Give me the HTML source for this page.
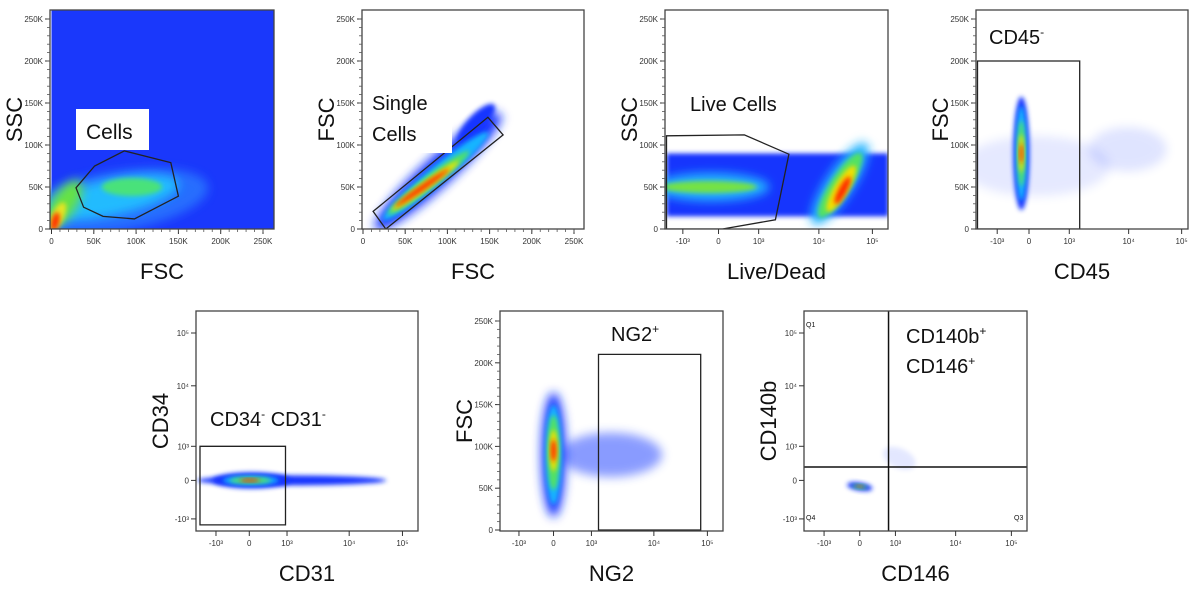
<!DOCTYPE html>
<html><head><meta charset="utf-8">
<style>
html,body{margin:0;padding:0;background:#fff;}
svg{display:block;font-family:"Liberation Sans",sans-serif;}
</style></head>
<body>
<svg id="fig" width="1200" height="591" viewBox="0 0 1200 591" xmlns="http://www.w3.org/2000/svg">
<defs>
<filter id="bl1" x="-50%" y="-50%" width="200%" height="200%"><feGaussianBlur stdDeviation="2.5"/></filter>
<filter id="bl2" x="-50%" y="-50%" width="200%" height="200%"><feGaussianBlur stdDeviation="5"/></filter>
</defs>
</svg>
<script>
// ---------- data ----------
const LOG_VALUES = [-1000, 0, 1000, 10000, 100000];
const LOG_LABELS = ['-10³', '0', '10³', '10⁴', '10⁵'];
const LIN_TICKS = [0, 50000, 100000, 150000, 200000, 250000];
const LIN_LABELS = ['0', '50K', '100K', '150K', '200K', '250K'];

const panelNames = ['cells-plot','single-cells-plot','live-cells-plot','cd45-plot','cd34-cd31-plot','ng2-plot','cd140b-cd146-plot'];
const xTitles = ['FSC','FSC','Live/Dead','CD45','CD31','NG2','CD146'];
const yTitles = ['SSC','FSC','SSC','FSC','CD34','FSC','CD140b'];

// populations: [x1,y1,x2,y2,halfWidthPx,color,opacity]
const pops1 = [[0,20000,150000,45000,30,'#2a7cff',0.8],[10000,25000,130000,50000,18,'#22c4ff',0.9],[70000,50000,120000,50000,9,'#48e27a',1],[5000,15000,25000,45000,12,'#66e244',1],[3000,5000,12000,25000,6,'#e6e424',1],[3000,3000,6000,15000,4,'#ff3000',1]];
const pops2 = [[28000,12000,150000,125000,15,'#1234ff',1],[120000,110000,148000,140000,9,'#1234ff',1],[32000,18000,140000,108000,9,'#12b4ff',1],[35000,22000,120000,88000,6,'#52e262',1],[38000,25000,110000,78000,4,'#f2e400',1],[40000,28000,100000,70000,2.5,'#ff2200',1]];
const pops3 = [[-3300,50000,800,50000,14,'#22b2ff',1],[-3300,50000,600,50000,6,'#74e244',1],[11000,20000,55000,88000,14,'#22b2ff',1],[13000,24000,48000,80000,10,'#52e262',1],[17000,28000,40000,68000,7,'#f2e000',1],[22000,34000,35000,58000,4,'#ff2a00',1]];
const pops4 = [[-1500,75000,1500,75000,30,'#3050ff',0.12],[5000,95000,20000,95000,22,'#3050ff',0.15],[-100,32000,-100,148000,8,'#1234ff',1],[-100,40000,-100,140000,5.5,'#12b4ff',1],[-100,55000,-100,125000,3.5,'#52e262',1],[-100,70000,-100,110000,2.5,'#f2e000',1],[-100,80000,-100,100000,1.5,'#ff2200',1]];
const pops5 = [[-3000,0,40000,0,5,'#1234ff',1],[-700,0,700,0,8,'#1234ff',1],[-400,0,400,0,4.5,'#12b4ff',1],[-250,0,250,0,3,'#52e262',1],[-100,0,100,0,1.5,'#ff2200',1]];
const pops6 = [[500,90000,6000,90000,22,'#2a4cff',0.55],[0,30000,0,150000,12,'#1234ff',1],[0,40000,0,140000,8,'#12b4ff',1],[0,55000,0,130000,6,'#52e262',1],[0,75000,0,115000,4,'#f2e000',1],[0,85000,0,105000,2.5,'#ff2200',1]];
const pops7 = [[800,500,1500,300,10,'#2244ff',0.12],[-100,-50,100,-80,4,'#1234ff',1],[-60,-60,60,-70,2,'#52e262',1],[-20,-60,20,-65,1,'#ff2200',1]];
const bgRects = [[0,0,270000,270000,'#1a38fb'],null,[-3300,15000,200000,90000,'#1434fd'],null,null,null,null];

// gates
const gate1 = [[29000,49000],[51000,75000],[86000,93000],[141000,79000],[150000,39000],[98000,12000],[61000,15000],[38000,26000]];
const gate2 = [[12000,21000],[27000,0],[166000,112000],[148000,133000]];
const gate3 = [[-3300,111000],[386,112000],[3180,89000],[1900,11000],[39,0],[-3300,0]];
const gate4 = [[-5000,0],[-5000,200000],[1500,200000],[1500,0]];
const gate5 = [[-3500,-1500],[-3500,1000],[900,1000],[900,-1500]];
const gate6 = [[1300,0],[1300,210000],[75000,210000],[75000,0]];
const quad7 = [600, 180];

// ---------- layout ----------
const frames = [[50,10,274,229],[362,10,584,229],[665,10,888,229],[976,10,1188,229],[196,311,418,531],[500,311,723,531],[804,311,1027,531]];
const xAxes = [{t:'lin',p0:51.5,p1:263},{t:'lin',p0:363,p1:574},{t:'log',f:[.08,.24,.42,.69,.93]},{t:'log',f:[.10,.25,.44,.72,.97]},{t:'log',f:[.09,.24,.41,.69,.93]},{t:'log',f:[.085,.24,.41,.69,.93]},{t:'log',f:[.09,.25,.41,.68,.93]}];
const yAxes = [{t:'lin',p0:229,p1:19},{t:'lin',p0:229,p1:19},{t:'lin',p0:229,p1:19},{t:'lin',p0:229,p1:19},{t:'log',f:[.055,.23,.385,.66,.90]},{t:'lin',p0:530,p1:321},{t:'log',f:[.055,.23,.385,.66,.90]}];
const allPops=[pops1,pops2,pops3,pops4,pops5,pops6,pops7];
const allGates=[gate1,gate2,gate3,gate4,gate5,gate6,null];

const NS='http://www.w3.org/2000/svg';
const svg=document.getElementById('fig');
function mk(tag,at,parent){const e=document.createElementNS(NS,tag);for(const k in at)e.setAttribute(k,at[k]);(parent||svg).appendChild(e);return e;}
const ash=v=>Math.asinh(v/150);
function logFrac(v,f){
  const A=LOG_VALUES.map(ash), s=ash(v);
  let i=0; while(i<A.length-2 && s>A[i+1]) i++;
  return f[i]+(s-A[i])/(A[i+1]-A[i])*(f[i+1]-f[i]);
}
function scaleX(k,v){const a=xAxes[k],fr=frames[k];if(a.t==='lin')return a.p0+v*(a.p1-a.p0)/250000;return fr[0]+logFrac(v,a.f)*(fr[2]-fr[0]);}
function scaleY(k,v){const a=yAxes[k],fr=frames[k];if(a.t==='lin')return a.p0+v*(a.p1-a.p0)/250000;return fr[3]-logFrac(v,a.f)*(fr[3]-fr[1]);}

frames.forEach((fr,k)=>{
  const g=mk('g',{});
  
  
  const cp=mk('clipPath',{id:'cp'+k},g);
  mk('rect',{x:fr[0],y:fr[1],width:fr[2]-fr[0],height:fr[3]-fr[1]},cp);
  const pg=mk('g',{'clip-path':'url(#cp'+k+')'},g);
  
  
  const bg=bgRects[k];
  if(bg){const x1=scaleX(k,bg[0]),x2=scaleX(k,bg[2]),y1=scaleY(k,bg[1]),y2=scaleY(k,bg[3]);
    const r=mk('rect',{x:Math.min(x1,x2),y:Math.min(y1,y2),width:Math.abs(x2-x1),height:Math.abs(y2-y1),fill:bg[4],filter:k===0?'':'url(#bl1)'},pg);
    
    }
  allPops[k].forEach(p=>{
    const x1=scaleX(k,p[0]),y1=scaleY(k,p[1]),x2=scaleX(k,p[2]),y2=scaleY(k,p[3]);
    const cx=(x1+x2)/2,cy=(y1+y2)/2,len=Math.hypot(x2-x1,y2-y1)/2,ang=Math.atan2(y2-y1,x2-x1)*180/Math.PI;
    const e=mk('ellipse',{cx:cx,cy:cy,rx:len+p[4],ry:p[4],fill:p[5],opacity:p[6],transform:`rotate(${ang} ${cx} ${cy})`,filter:p[4]>10?'url(#bl2)':'url(#bl1)'},pg);
    
    
  });
  const gt=allGates[k];
  if(gt){const pts=gt.map(q=>scaleX(k,q[0]).toFixed(1)+','+scaleY(k,q[1]).toFixed(1)).join(' ');
    const pl=mk('polygon',{points:pts,fill:'none',stroke:'#222','stroke-width':1.3},pg);
    
    }
  if(k===6){const qx=scaleX(k,quad7[0]),qy=scaleY(k,quad7[1]);
    const l1=mk('line',{x1:qx,x2:qx,y1:fr[1],y2:fr[3],stroke:'#111','stroke-width':1.5},pg);
    
    
    const l2=mk('line',{x1:fr[0],x2:fr[2],y1:qy,y2:qy,stroke:'#111','stroke-width':1.5},pg);
    
    }
  const fb=mk('rect',{x:fr[0],y:fr[1],width:fr[2]-fr[0],height:fr[3]-fr[1],fill:'none',stroke:'#444','stroke-width':1.3},g);
  
  
  const xa=xAxes[k], ya=yAxes[k];
  const xt=xa.t==='lin'?LIN_TICKS:LOG_VALUES, xl=xa.t==='lin'?LIN_LABELS:LOG_LABELS;
  xt.forEach((v,i)=>{const x=scaleX(k,v);
    mk('line',{x1:x,x2:x,y1:fr[3],y2:fr[3]+5,stroke:'#333','stroke-width':1},g);
    const t=mk('text',{x:x,y:fr[3]+15,'font-size':8,fill:'#333','text-anchor':'middle'},g);t.textContent=xl[i];
    
    });
  const yt=ya.t==='lin'?LIN_TICKS:LOG_VALUES, yl=ya.t==='lin'?LIN_LABELS:LOG_LABELS;
  yt.forEach((v,i)=>{const y=scaleY(k,v);
    mk('line',{x1:fr[0]-5,x2:fr[0],y1:y,y2:y,stroke:'#333','stroke-width':1},g);
    const t=mk('text',{x:fr[0]-7,y:y+3,'font-size':8,fill:'#333','text-anchor':'end'},g);t.textContent=yl[i];
    
    });
  if(xa.t==='lin')for(let v=10000;v<260000;v+=10000){const x=scaleX(k,v);mk('line',{x1:x,x2:x,y1:fr[3],y2:fr[3]+3,stroke:'#555','stroke-width':.8},g);}
  if(ya.t==='lin')for(let v=10000;v<260000;v+=10000){const y=scaleY(k,v);mk('line',{x1:fr[0]-3,x2:fr[0],y1:y,y2:y,stroke:'#555','stroke-width':.8},g);}
  const cxm=(fr[0]+fr[2])/2;
  const xtl=mk('text',{x:cxm,y:fr[3]+50,'font-size':22,fill:'#111','text-anchor':'middle'},g);xtl.textContent=xTitles[k];
  
  
  const cym=(fr[1]+fr[3])/2, tx=fr[0]-28;
  const ytl=mk('text',{x:tx,y:cym,'font-size':22,fill:'#111','text-anchor':'middle',transform:`rotate(-90 ${tx} ${cym})`},g);ytl.textContent=yTitles[k];
  
  
});

function label(txt,x,y,size,name,box){
  if(box){const r=mk('rect',{x:box[0],y:box[1],width:box[2],height:box[3],fill:'#fff'});
    
    }
  const t=mk('text',{x:x,y:y,'font-size':size,fill:'#111'});t.innerHTML=txt;
  
  
}
label('Cells',86,139,21,'cells-gate-label',[76,109,73,41]);
label('Single',372,110,20,'single-cells-gate-label',[370,88,82,65]);
label('Cells',372,141,20,'single-cells-gate-label-2',null);
label('Live Cells',690,111,20,'live-cells-gate-label',null);
label('CD45<tspan dy="-8" font-size="12">-</tspan>',989,44,20,'cd45-gate-label',null);
label('CD34<tspan dy="-8" font-size="12">-</tspan><tspan dy="8"> CD31</tspan><tspan dy="-8" font-size="12">-</tspan>',210,426,20,'cd34-cd31-gate-label',null);
label('NG2<tspan dy="-8" font-size="12">+</tspan>',611,341,20,'ng2-gate-label',null);
label('CD140b<tspan dy="-8" font-size="12">+</tspan>',906,343,20,'cd140b-label',null);
label('CD146<tspan dy="-8" font-size="12">+</tspan>',906,373,20,'cd146-label',null);
label('Q1',806,327,7,'quadrant-q1',null);
label('Q4',806,520,7,'quadrant-q4',null);
label('Q3',1014,520,7,'quadrant-q3',null);
</script>
</body></html>
